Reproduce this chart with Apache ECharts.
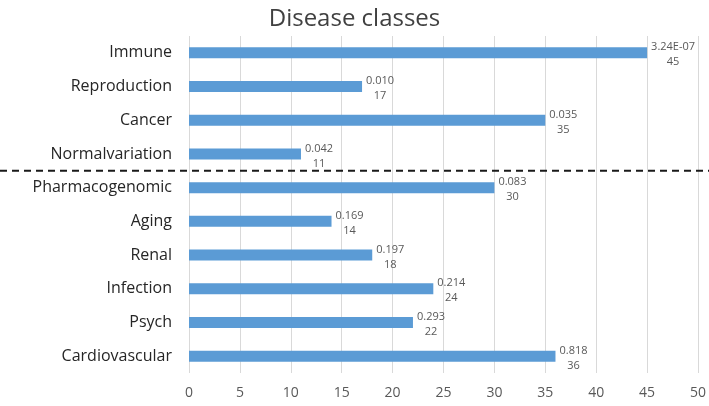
<!DOCTYPE html>
<html><head><meta charset="utf-8">
<script src="https://cdn.jsdelivr.net/npm/echarts@6/dist/echarts.min.js"></script>
<style>html,body{margin:0;padding:0;background:#fff}#c{width:709px;height:406px}</style>
</head><body><div id="c"></div>
<script>
var categories = ["Immune","Reproduction","Cancer","Normalvariation","Pharmacogenomic","Aging","Renal","Infection","Psych","Cardiovascular"];
var counts = [45,17,35,11,30,14,18,24,22,36];
var pValues = ["3.24E-07","0.010","0.035","0.042","0.083","0.169","0.197","0.214","0.293","0.818"];
var xTicks = [0,5,10,15,20,25,30,35,40,45,50];
var separatorAfter = 3;

var labelFont = '11px "Open Sans"';
var ctx = document.createElement('canvas').getContext('2d');
ctx.font = labelFont;
var barData = counts.map(function(v, i){
  var w = Math.max(ctx.measureText(pValues[i]).width, ctx.measureText(String(v)).width);
  return {value: v, label: {offset: [w / 2, 2]}};
});

var chart = echarts.init(document.getElementById('c'));
var option = {
  animation: false,
  title: {text: 'Disease classes', left: 'center', top: 2,
    textStyle: {fontFamily: 'Open Sans', fontSize: 24, fontWeight: 'normal', color: '#404040'}},
  grid: {left: 189, right: 10, top: 36, bottom: 33, containLabel: false},
  xAxis: {type: 'value', min: xTicks[0], max: xTicks[xTicks.length-1], interval: 5,
    axisLine: {show: false}, axisTick: {show: false},
    axisLabel: {color: '#595959', fontSize: 14, fontFamily: 'Open Sans', margin: 13},
    splitLine: {show: true, lineStyle: {color: '#d9d9d9', width: 1}}},
  yAxis: {type: 'category', data: categories, inverse: true,
    axisLine: {show: false}, axisTick: {show: false},
    axisLabel: {color: '#262626', fontSize: 16, fontFamily: 'Open Sans', margin: 17}},
  series: [{type: 'bar', data: barData, barWidth: 11,
    itemStyle: {color: '#5b9bd5'},
    label: {show: true, position: 'right', distance: 4, align: 'center',
      color: '#595959', fontSize: 11, fontFamily: 'Open Sans', lineHeight: 15,
      formatter: function(p){ return pValues[p.dataIndex] + '\n' + p.value; }}}]
};
chart.setOption(option);
var y1 = chart.convertToPixel({yAxisIndex: 0}, categories[separatorAfter]);
var y2 = chart.convertToPixel({yAxisIndex: 0}, categories[separatorAfter+1]);
var ySep = (y1 + y2) / 2;
chart.setOption({graphic: [{type: 'line', shape: {x1: 0, y1: ySep, x2: 709, y2: ySep},
  style: {stroke: '#1a1a1a', lineWidth: 2, lineDash: [7, 5]}}]});
</script></body></html>
